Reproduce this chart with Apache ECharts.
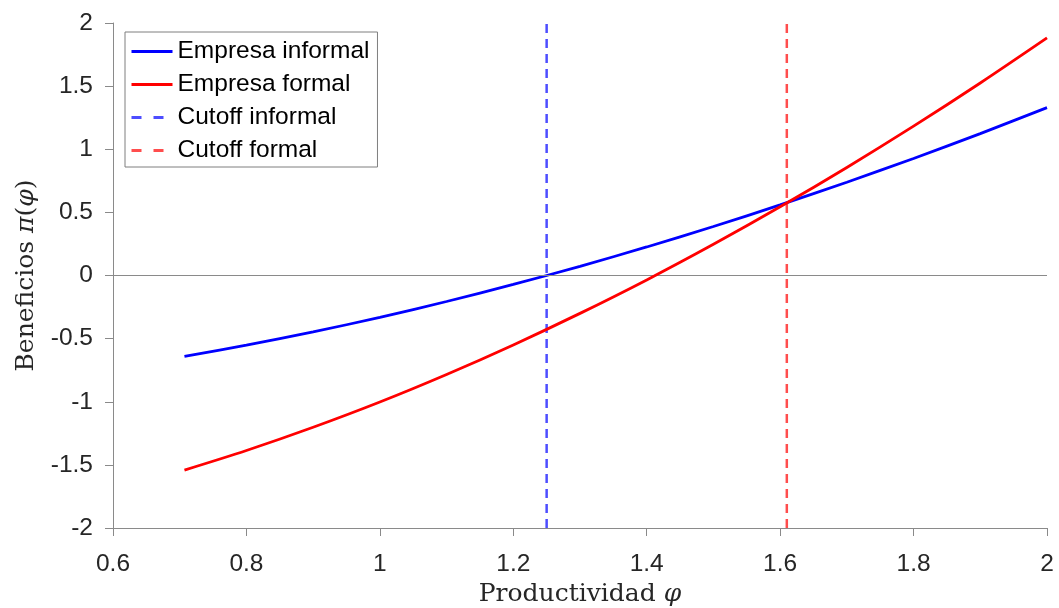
<!DOCTYPE html>
<html>
<head>
<meta charset="utf-8">
<script src="https://cdn.jsdelivr.net/npm/echarts@6/dist/echarts.min.js"></script>
<style>
  html, body { margin: 0; padding: 0; background: #fff; }
  #chart { width: 1059px; height: 608px; }
</style>
</head>
<body>
<div id="chart"></div>
<script>
// Productivity grid (phi) and profits of each firm type
const phi = [0.7071, 0.8, 0.9, 1.0, 1.1, 1.2, 1.3, 1.4, 1.5, 1.6, 1.7, 1.8, 1.9, 2.0];
const profitInformal = [-0.641, -0.552, -0.447, -0.331, -0.206, -0.071, 0.073, 0.226, 0.388, 0.559, 0.739, 0.927, 1.124, 1.330];
const profitFormal = [-1.541, -1.386, -1.202, -1.002, -0.784, -0.550, -0.300, -0.035, 0.247, 0.544, 0.856, 1.183, 1.525, 1.882];

// Productivity cutoffs
const cutoffInformal = 1.25;
const cutoffFormal = 1.61;

// Axis ranges
const xRange = [0.6, 2.0];
const yRange = [-2, 2];

const seriesNames = ['Empresa informal', 'Empresa formal', 'Cutoff informal', 'Cutoff formal'];

const pair = (xs, ys) => xs.map((x, i) => [x, ys[i]]);
const vline = (x) => [[x, yRange[0]], [x, yRange[1]]];

const axisGray = '#8a8a8a';
const tickText = '#262626';
const serif = '"DejaVu Serif", "Liberation Serif", serif';
const sans = '"Liberation Sans", Arial, sans-serif';
const tickSize = 24.5;

const nameRich = {
  r: { fontFamily: serif, fontSize: 25, color: '#262626' },
  i: { fontFamily: serif, fontSize: 25, fontStyle: 'italic', color: '#262626' }
};

const chart = echarts.init(document.getElementById('chart'));
chart.setOption({
  animation: false,
  backgroundColor: '#ffffff',
  grid: { left: 113, right: 12, top: 23, bottom: 80, containLabel: false, outerBoundsMode: 'none' },
  legend: {
    data: [
      { name: seriesNames[0] },
      { name: seriesNames[1] },
      { name: seriesNames[2], lineStyle: { type: [10, 12] } },
      { name: seriesNames[3], lineStyle: { type: [10, 12] } }
    ],
    orient: 'vertical',
    left: 125,
    top: 32,
    padding: [7, 8, 4, 5],
    itemGap: 8,
    itemWidth: 41,
    itemHeight: 20,
    itemStyle: { opacity: 0 },
    lineStyle: { width: 3 },
    backgroundColor: '#ffffff',
    borderColor: '#7f7f7f',
    borderWidth: 1,
    textStyle: { fontFamily: sans, fontSize: tickSize, color: '#000', lineHeight: 24 }
  },
  xAxis: {
    type: 'value',
    min: xRange[0],
    max: xRange[1],
    interval: 0.2,
    name: '{r|Productividad }{i|φ}',
    nameLocation: 'middle',
    nameGap: 54,
    nameTextStyle: { rich: nameRich },
    axisLine: { show: true, onZero: false, lineStyle: { color: axisGray, width: 1 } },
    axisTick: { show: true, inside: false, length: 8, lineStyle: { color: axisGray } },
    axisLabel: { fontFamily: sans, fontSize: tickSize, color: tickText, margin: 24 },
    splitLine: { show: false }
  },
  yAxis: {
    type: 'value',
    min: yRange[0],
    max: yRange[1],
    interval: 0.5,
    name: '{r|Beneficios }{i|π}{r|(}{i|φ}{r|)}',
    nameLocation: 'middle',
    nameGap: 74,
    nameRotate: 90,
    nameTextStyle: { rich: nameRich },
    axisLine: { show: true, onZero: false, lineStyle: { color: axisGray, width: 1 } },
    axisTick: { show: true, inside: false, length: 8, lineStyle: { color: axisGray } },
    axisLabel: { fontFamily: sans, fontSize: tickSize, color: tickText, margin: 20 },
    splitLine: { show: false }
  },
  series: [
    {
      name: seriesNames[0],
      type: 'line',
      data: pair(phi, profitInformal),
      smooth: 0.3,
      showSymbol: false,
      symbol: 'none',
      lineStyle: { color: '#0000ff', width: 2.8 },
      itemStyle: { color: '#0000ff' },
      z: 4,
      // horizontal reference at zero profit
      markLine: {
        silent: true,
        symbol: 'none',
        label: { show: false },
        lineStyle: { color: axisGray, width: 1, type: 'solid' },
        data: [{ yAxis: 0 }]
      }
    },
    {
      name: seriesNames[1],
      type: 'line',
      data: pair(phi, profitFormal),
      smooth: 0.3,
      showSymbol: false,
      symbol: 'none',
      lineStyle: { color: '#ff0000', width: 2.8 },
      itemStyle: { color: '#ff0000' },
      z: 5
    },
    {
      name: seriesNames[2],
      type: 'line',
      data: vline(cutoffInformal),
      showSymbol: false,
      symbol: 'none',
      lineStyle: { color: '#4d4dff', width: 2.5, type: [9, 6] },
      itemStyle: { color: '#4d4dff' },
      z: 3
    },
    {
      name: seriesNames[3],
      type: 'line',
      data: vline(cutoffFormal),
      showSymbol: false,
      symbol: 'none',
      lineStyle: { color: '#ff4d4d', width: 2.5, type: [9, 6] },
      itemStyle: { color: '#ff4d4d' },
      z: 3
    }
  ]
});
</script>
</body>
</html>
